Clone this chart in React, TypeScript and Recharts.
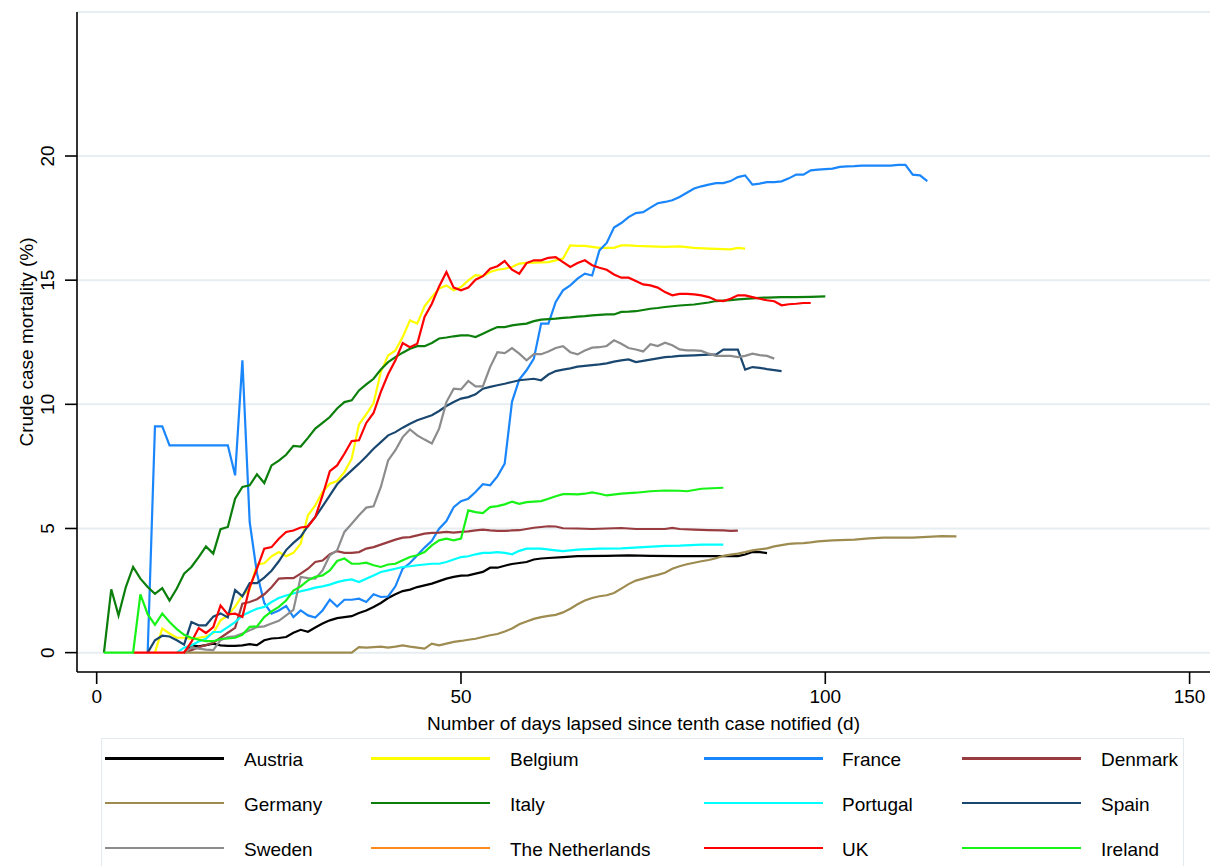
import React from 'react';
import { LineChart, Line, XAxis, YAxis, CartesianGrid, Label } from 'recharts';

type P = [number, number][];

const xTicks = [0, 50, 100, 150];
const yTicks = [0, 5, 10, 15, 20];

const austria: P = [[12,0],[13,0.3],[14,0.25],[15,0.3],[16,0.36],[17,0.29],[18,0.27],[19,0.27],[20,0.29],[21,0.34],[22,0.3],[23,0.5],[24,0.57],[25,0.59],[26,0.63],[27,0.8],[28,0.92],[29,0.84],[30,1.01],[31,1.17],[32,1.3],[33,1.39],[34,1.43],[35,1.47],[36,1.6],[37,1.7],[38,1.84],[39,2.0],[40,2.2],[41,2.35],[42,2.48],[43,2.54],[44,2.64],[45,2.71],[46,2.78],[47,2.88],[48,2.98],[49,3.05],[50,3.1],[51,3.11],[52,3.18],[53,3.25],[54,3.42],[55,3.42],[56,3.5],[57,3.57],[58,3.61],[59,3.65],[60,3.75],[61,3.79],[62,3.81],[64,3.85],[66,3.89],[70,3.9],[73,3.92],[76,3.9],[80,3.89],[85,3.89],[88,3.89],[89,3.95],[90,4.05],[91,4.05],[92,4.01]];

const belgium: P = [[8,0],[9,0.97],[10,0.77],[11,0.6],[12,0.6],[13,0.55],[14,0.6],[15,0.65],[16,0.78],[17,1.3],[18,1.5],[19,1.85],[20,2.3],[21,2.55],[22,3.55],[23,3.6],[24,3.88],[25,4.05],[26,3.88],[27,4.02],[28,4.39],[29,5.53],[30,5.93],[31,6.47],[32,6.8],[33,6.91],[34,7.27],[35,7.81],[36,9.19],[37,9.6],[38,10.05],[39,11.3],[40,11.97],[41,12.17],[42,12.71],[43,13.38],[44,13.25],[45,13.95],[46,14.32],[47,14.66],[48,14.79],[49,14.59],[50,14.72],[51,14.99],[52,15.2],[53,15.16],[54,15.33],[55,15.42],[56,15.46],[57,15.53],[58,15.67],[59,15.7],[60,15.71],[61,15.72],[62,15.73],[63,15.8],[64,15.87],[65,16.4],[66,16.38],[67,16.38],[68,16.34],[69,16.3],[70,16.3],[71,16.3],[72,16.4],[73,16.4],[74,16.38],[76,16.36],[78,16.34],[80,16.36],[82,16.3],[84,16.27],[86,16.25],[87,16.24],[88,16.3],[89,16.27]];

const france: P = [[7,0],[8,9.11],[9,9.11],[10,8.35],[18,8.35],[19,7.14],[20,11.77],[21,5.26],[22,3.2],[23,2.0],[24,1.57],[25,1.7],[26,1.88],[27,1.43],[28,1.7],[29,1.5],[30,1.41],[31,1.7],[32,2.13],[33,1.86],[34,2.13],[35,2.13],[36,2.17],[37,2.04],[38,2.35],[39,2.24],[40,2.26],[41,2.67],[42,3.38],[43,3.61],[44,3.92],[45,4.23],[46,4.5],[47,4.99],[48,5.3],[49,5.86],[50,6.1],[51,6.2],[52,6.47],[53,6.78],[54,6.74],[55,7.1],[56,7.61],[57,10.1],[58,11.0],[59,11.37],[60,11.84],[61,13.25],[62,13.25],[63,14.12],[64,14.59],[65,14.79],[66,15.06],[67,15.26],[68,15.19],[69,16.2],[70,16.5],[71,17.12],[72,17.3],[73,17.54],[74,17.7],[75,17.74],[76,17.92],[77,18.1],[78,18.15],[79,18.22],[80,18.35],[81,18.52],[82,18.69],[83,18.78],[84,18.85],[85,18.91],[86,18.91],[87,18.99],[88,19.15],[89,19.22],[90,18.85],[91,18.89],[92,18.95],[93,18.95],[94,18.98],[95,19.1],[96,19.25],[97,19.25],[98,19.42],[99,19.45],[100,19.47],[101,19.49],[102,19.56],[103,19.58],[104,19.59],[105,19.61],[109,19.61],[110,19.64],[111,19.64],[112,19.25],[113,19.22],[114,18.99]];

const denmark: P = [[12,0],[13,0.1],[14,0.22],[15,0.3],[16,0.4],[17,0.6],[18,0.8],[19,1.0],[20,1.97],[21,2.04],[22,2.15],[23,2.35],[24,2.63],[25,2.98],[26,3.0],[27,3.0],[28,3.18],[29,3.38],[30,3.65],[31,3.71],[32,3.96],[33,4.09],[34,4.02],[35,4.02],[36,4.05],[37,4.19],[38,4.25],[39,4.35],[40,4.45],[41,4.55],[42,4.63],[43,4.65],[44,4.72],[45,4.79],[46,4.82],[47,4.83],[48,4.86],[49,4.83],[50,4.86],[51,4.88],[52,4.92],[53,4.95],[54,4.92],[55,4.9],[56,4.9],[57,4.92],[58,4.93],[60,5.03],[62,5.09],[63,5.08],[64,5.01],[66,5.0],[68,4.98],[70,5.0],[72,5.02],[74,4.98],[76,4.98],[78,4.98],[79,5.02],[80,4.98],[82,4.95],[84,4.93],[86,4.92],[87,4.9],[88,4.91]];

const germany: P = [[12,0],[35,0],[36,0.22],[37,0.2],[38,0.22],[39,0.24],[40,0.2],[41,0.24],[42,0.29],[43,0.24],[44,0.2],[45,0.16],[46,0.36],[47,0.29],[48,0.36],[49,0.43],[50,0.47],[51,0.52],[52,0.56],[53,0.63],[54,0.7],[55,0.75],[56,0.85],[57,0.97],[58,1.14],[59,1.25],[60,1.36],[61,1.43],[62,1.48],[63,1.52],[64,1.62],[65,1.77],[66,1.95],[67,2.1],[68,2.2],[69,2.27],[70,2.31],[71,2.4],[72,2.58],[73,2.76],[74,2.9],[75,2.98],[76,3.06],[77,3.13],[78,3.22],[79,3.38],[80,3.48],[81,3.56],[82,3.62],[83,3.68],[84,3.73],[85,3.8],[86,3.9],[87,3.95],[88,3.99],[89,4.05],[90,4.12],[91,4.16],[92,4.2],[93,4.28],[94,4.33],[95,4.38],[96,4.4],[97,4.41],[98,4.44],[99,4.48],[100,4.5],[101,4.52],[102,4.53],[104,4.55],[106,4.6],[108,4.63],[110,4.63],[112,4.63],[114,4.66],[116,4.69],[118,4.68]];

const italy: P = [[1,0],[2,2.55],[3,1.5],[4,2.64],[5,3.45],[6,2.98],[7,2.64],[8,2.37],[9,2.6],[10,2.1],[11,2.58],[12,3.18],[13,3.45],[14,3.85],[15,4.28],[16,3.99],[17,4.97],[18,5.06],[19,6.2],[20,6.67],[21,6.74],[22,7.18],[23,6.83],[24,7.54],[25,7.73],[26,7.97],[27,8.33],[28,8.3],[29,8.65],[30,9.02],[31,9.25],[32,9.49],[33,9.83],[34,10.09],[35,10.16],[36,10.56],[37,10.8],[38,11.03],[39,11.4],[40,11.7],[41,11.9],[42,12.08],[43,12.24],[44,12.34],[45,12.34],[46,12.47],[47,12.65],[48,12.69],[49,12.74],[50,12.78],[51,12.78],[52,12.71],[53,12.84],[54,12.98],[55,13.11],[56,13.11],[57,13.18],[58,13.22],[59,13.25],[60,13.35],[61,13.41],[62,13.43],[63,13.45],[64,13.48],[65,13.5],[66,13.53],[67,13.55],[68,13.58],[69,13.6],[70,13.62],[71,13.62],[72,13.72],[73,13.73],[74,13.75],[75,13.8],[76,13.85],[77,13.88],[78,13.92],[79,13.95],[80,13.98],[81,14.0],[82,14.02],[83,14.06],[84,14.1],[85,14.16],[86,14.18],[87,14.2],[88,14.23],[89,14.25],[90,14.27],[91,14.29],[92,14.3],[93,14.31],[94,14.32],[96,14.32],[98,14.33],[100,14.35]];

const portugal: P = [[11,0],[12,0.2],[13,0.3],[14,0.45],[15,0.56],[16,0.83],[17,0.83],[18,1.03],[19,1.23],[20,1.5],[21,1.64],[22,1.77],[23,1.84],[24,2.04],[25,2.2],[26,2.3],[27,2.38],[28,2.47],[29,2.54],[30,2.62],[31,2.67],[32,2.74],[33,2.84],[34,2.91],[35,2.95],[36,2.84],[37,2.98],[38,3.11],[39,3.25],[40,3.31],[41,3.38],[42,3.45],[43,3.48],[44,3.52],[45,3.55],[46,3.58],[47,3.58],[48,3.65],[49,3.75],[50,3.85],[51,3.88],[52,3.96],[53,4.02],[54,4.02],[55,4.05],[56,4.02],[57,3.96],[58,4.1],[59,4.19],[61,4.19],[63,4.12],[64,4.09],[66,4.15],[69,4.19],[72,4.2],[75,4.25],[78,4.3],[80,4.31],[83,4.35],[86,4.35]];

const spain: P = [[7,0],[8,0.5],[9,0.68],[10,0.65],[11,0.5],[12,0.32],[13,1.23],[14,1.1],[15,1.1],[16,1.45],[17,1.58],[18,1.42],[19,2.52],[20,2.27],[21,2.8],[22,2.8],[23,3.02],[24,3.3],[25,3.68],[26,4.13],[27,4.42],[28,4.67],[29,5.1],[30,5.46],[31,5.89],[32,6.33],[33,6.78],[34,7.07],[35,7.34],[36,7.61],[37,7.9],[38,8.21],[39,8.48],[40,8.75],[41,8.88],[42,9.06],[43,9.22],[44,9.36],[45,9.46],[46,9.56],[47,9.73],[48,9.93],[49,10.09],[50,10.23],[51,10.29],[52,10.4],[53,10.63],[54,10.7],[55,10.77],[56,10.83],[57,10.9],[58,10.97],[59,11.0],[60,11.03],[61,10.97],[62,11.2],[63,11.34],[64,11.4],[65,11.45],[66,11.52],[67,11.55],[68,11.58],[69,11.61],[70,11.65],[71,11.72],[72,11.77],[73,11.81],[74,11.7],[75,11.75],[76,11.8],[77,11.85],[78,11.9],[79,11.92],[80,11.95],[82,11.97],[84,12.0],[85,12.0],[86,12.2],[87,12.2],[88,12.2],[89,11.4],[90,11.5],[91,11.47],[92,11.42],[93,11.38],[94,11.34]];

const sweden: P = [[12,0],[13,0.2],[14,0.16],[15,0.12],[16,0.1],[17,0.5],[18,0.63],[19,0.66],[20,0.77],[21,0.9],[22,1.03],[23,1.06],[24,1.17],[25,1.28],[26,1.5],[27,1.72],[28,3.05],[29,3.0],[30,2.98],[31,3.31],[32,3.92],[33,4.12],[34,4.86],[35,5.19],[36,5.53],[37,5.84],[38,5.89],[39,6.67],[40,7.74],[41,8.15],[42,8.68],[43,8.99],[44,8.75],[45,8.58],[46,8.42],[47,9.02],[48,10.09],[49,10.63],[50,10.6],[51,10.94],[52,10.72],[53,10.72],[54,11.5],[55,12.1],[56,12.06],[57,12.26],[58,12.04],[59,11.77],[60,12.02],[61,12.02],[62,12.13],[63,12.27],[64,12.34],[65,12.1],[66,12.01],[67,12.17],[68,12.28],[69,12.3],[70,12.35],[71,12.58],[72,12.44],[73,12.27],[74,12.21],[75,12.13],[76,12.42],[77,12.35],[78,12.48],[79,12.38],[80,12.21],[81,12.17],[82,12.17],[83,12.15],[84,12.04],[85,11.95],[86,11.95],[87,11.95],[88,11.9],[89,11.95],[90,12.04],[91,11.98],[92,11.95],[93,11.84]];

const netherlands: P = [];

const uk: P = [[5,0],[12,0],[13,0.43],[14,0.99],[15,0.79],[16,1.03],[17,1.9],[18,1.54],[19,1.57],[20,1.44],[21,2.64],[22,3.38],[23,4.19],[24,4.25],[25,4.59],[26,4.86],[27,4.92],[28,5.04],[29,5.08],[30,5.46],[31,6.33],[32,7.31],[33,7.54],[34,8.01],[35,8.52],[36,8.55],[37,9.25],[38,9.65],[39,10.5],[40,11.21],[41,11.77],[42,12.47],[43,12.3],[44,12.44],[45,13.52],[46,14.05],[47,14.75],[48,15.33],[49,14.7],[50,14.59],[51,14.7],[52,15.02],[53,15.16],[54,15.46],[55,15.56],[56,15.77],[57,15.42],[58,15.26],[59,15.69],[60,15.8],[61,15.8],[62,15.9],[63,15.93],[64,15.73],[65,15.53],[66,15.69],[67,15.8],[68,15.6],[69,15.5],[70,15.42],[71,15.23],[72,15.1],[73,15.1],[74,14.97],[75,14.83],[76,14.79],[77,14.7],[78,14.52],[79,14.39],[80,14.45],[81,14.45],[82,14.43],[83,14.39],[84,14.32],[85,14.19],[86,14.16],[87,14.25],[88,14.39],[89,14.39],[90,14.32],[91,14.25],[92,14.19],[93,14.15],[94,13.99],[95,14.03],[96,14.05],[97,14.08],[98,14.08]];

const ireland: P = [[1,0],[5,0],[6,2.35],[7,1.55],[8,1.12],[9,1.57],[10,1.23],[11,0.95],[12,0.72],[13,0.6],[14,0.52],[15,0.46],[16,0.46],[17,0.55],[18,0.57],[19,0.6],[20,0.72],[21,1.04],[22,1.06],[23,1.43],[24,1.66],[25,1.84],[26,2.1],[27,2.5],[28,2.67],[29,2.91],[30,3.05],[31,3.11],[32,3.31],[33,3.69],[34,3.79],[35,3.58],[36,3.58],[37,3.62],[38,3.52],[39,3.45],[40,3.55],[41,3.58],[42,3.72],[43,3.85],[44,3.92],[45,4.05],[46,4.32],[47,4.52],[48,4.59],[49,4.52],[50,4.59],[51,5.73],[52,5.66],[53,5.62],[54,5.86],[55,5.9],[56,5.97],[57,6.08],[58,5.99],[59,6.06],[60,6.08],[61,6.1],[62,6.2],[63,6.3],[64,6.38],[65,6.38],[66,6.37],[67,6.4],[68,6.45],[69,6.4],[70,6.33],[72,6.4],[74,6.44],[76,6.5],[78,6.53],[80,6.52],[81,6.5],[83,6.6],[86,6.64]];

const countries = ['Austria', 'Belgium', 'France', 'Denmark', 'Germany', 'Italy', 'Portugal', 'Spain', 'Sweden', 'The Netherlands', 'UK', 'Ireland'];
const seriesValues: P[] = [austria, belgium, france, denmark, germany, italy, portugal, spain, sweden, netherlands, uk, ireland];
const colors = ['#000000', '#ffff00', '#1a86fb', '#983c40', '#9d8b50', '#0b7e0b', '#00ffff', '#1a476f', '#8c8c8c', '#ff8a1c', '#ff0000', '#17f217'];

const FONT = '"Liberation Sans", Arial, Helvetica, sans-serif';
const toPts = (arr: P) => arr.map(([d, v]) => ({ d, v }));

const YTick = (props: any) => {
  const { x, y, payload } = props;
  return (
    <text transform={`translate(${x - 9}, ${y}) rotate(-90)`} textAnchor="middle" fontSize={19} fontFamily={FONT} fill="#000">
      {payload.value}
    </text>
  );
};

const YTitle = (props: any) => {
  const vb = props.viewBox || { x: 0, y: 12, width: 77, height: 660 };
  const cy = vb.y + vb.height / 2;
  return (
    <text transform={`translate(33, ${cy}) rotate(-90)`} textAnchor="middle" fontSize={19} fontFamily={FONT} fill="#000">
      Crude case mortality (%)
    </text>
  );
};

const XTitle = (props: any) => {
  const vb = props.viewBox || { x: 77, y: 672, width: 1133, height: 60 };
  return (
    <text x={vb.x + vb.width / 2} y={730} textAnchor="middle" fontSize={19} fontFamily={FONT} fill="#000">
      Number of days lapsed since tenth case notified (d)
    </text>
  );
};

const lineStarts = [105, 371, 704, 962];
const textStarts = [244, 510, 842, 1101];
const rowYs = [758.5, 803, 848];

export default function App() {
  return (
    <div style={{ position: 'absolute', left: 0, top: 0, width: 1213, height: 866, overflow: 'hidden', background: '#fff', fontFamily: FONT }}>
      <LineChart width={1213} height={866} margin={{ top: 12, right: 3, left: 0, bottom: 134 }}>
        <CartesianGrid horizontal vertical={false} stroke="#e6eef1" strokeWidth={2} />
        <XAxis
          type="number"
          dataKey="d"
          domain={[-2.7, 152.8]}
          ticks={xTicks}
          allowDataOverflow
          height={60}
          tickSize={12}
          tickMargin={6}
          axisLine={{ stroke: '#000', strokeWidth: 1.6 }}
          tickLine={{ stroke: '#000', strokeWidth: 1.6 }}
          tick={{ fontSize: 19, fontFamily: FONT, fill: '#000' }}
        >
          <Label content={<XTitle />} />
        </XAxis>
        <YAxis
          type="number"
          domain={[-0.78, 25.8]}
          ticks={yTicks}
          allowDataOverflow
          width={77}
          tickSize={12}
          axisLine={{ stroke: '#000', strokeWidth: 1.6 }}
          tickLine={{ stroke: '#000', strokeWidth: 1.6 }}
          tick={<YTick />}
        >
          <Label content={<YTitle />} />
        </YAxis>
        {countries.map((c, i) => (
          <Line
            key={c}
            name={c}
            data={toPts(seriesValues[i])}
            dataKey="v"
            type="linear"
            stroke={colors[i]}
            strokeWidth={2.2}
            dot={false}
            activeDot={false}
            isAnimationActive={false}
          />
        ))}
      </LineChart>
      <div style={{ position: 'absolute', left: 101, top: 738, width: 1083, height: 160, border: '1.5px solid #e3eaee', boxSizing: 'border-box' }} />
      {countries.map((c, i) => {
        const col = i % 4;
        const row = Math.floor(i / 4);
        const yy = rowYs[row];
        return (
          <React.Fragment key={c}>
            <div style={{ position: 'absolute', left: lineStarts[col], top: yy - 1.1, width: 119, height: 2.2, background: colors[i] }} />
            <div style={{ position: 'absolute', left: textStarts[col], top: yy - 9.5, fontSize: 19, lineHeight: '22px', whiteSpace: 'nowrap', color: '#000', fontFamily: FONT }}>
              {c}
            </div>
          </React.Fragment>
        );
      })}
    </div>
  );
}
